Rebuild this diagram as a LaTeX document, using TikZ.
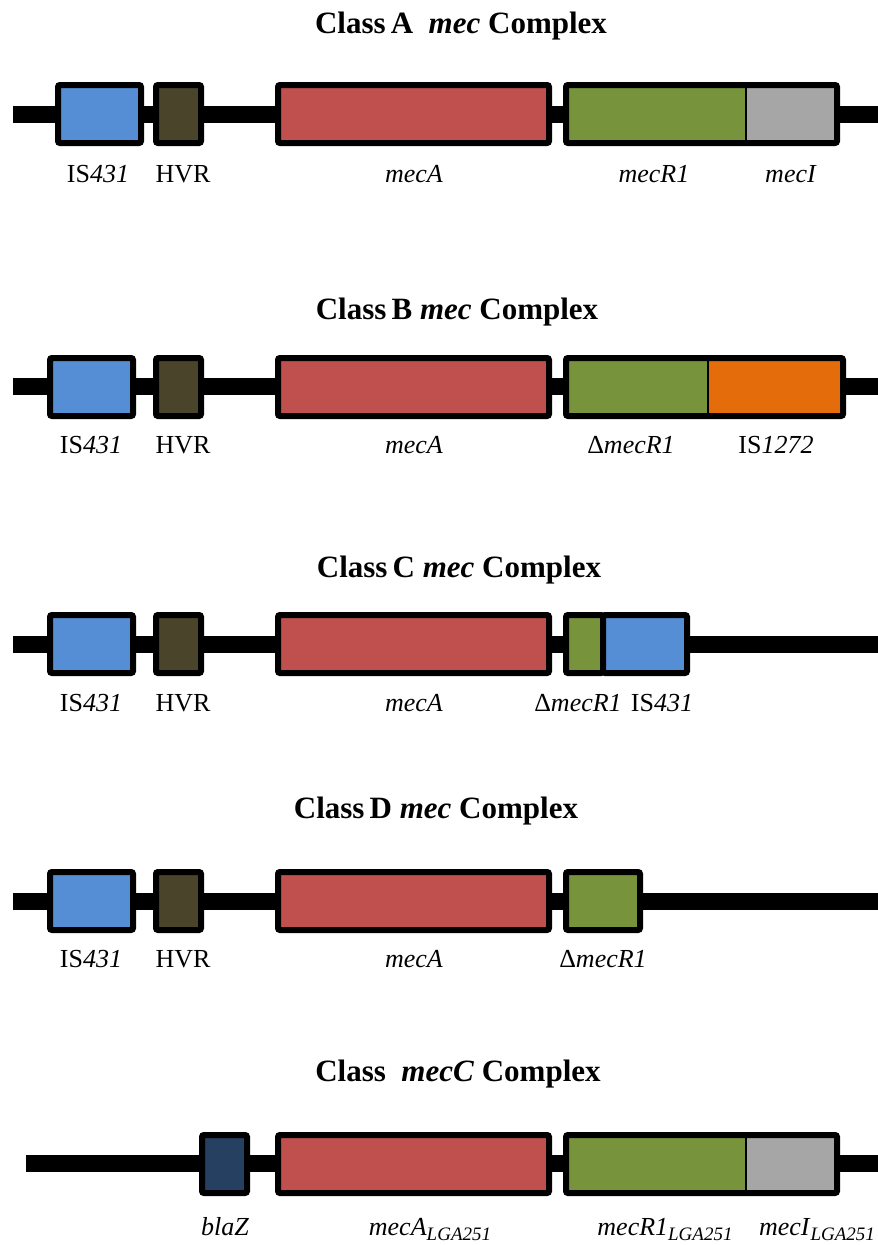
\documentclass[tikz,border=0pt]{standalone}
\usepackage{fontspec}
\setmainfont{Liberation Serif}
\definecolor{isblue}{HTML}{558ED5}
\definecolor{hvrcol}{HTML}{4A452A}
\definecolor{mecacol}{HTML}{C0504D}
\definecolor{mecrcol}{HTML}{77933C}
\definecolor{meccol}{HTML}{A6A6A6}
\definecolor{isorange}{HTML}{E46C0A}
\definecolor{blazcol}{HTML}{254061}
\newcommand{\lgasub}{\raisebox{-0.2em}{\fontsize{19}{21}\selectfont\textit{LGA251}}}
\begin{document}
\begin{tikzpicture}[x=1pt,y=-1pt,
  gene/.style={draw=black, line width=6pt, rounded corners=2pt, minimum height=58pt, inner sep=0pt, outer sep=0pt},
  genefill/.style={draw=none, minimum height=58pt, inner sep=0pt, outer sep=0pt},
  outline/.style={draw=black, line width=6pt, rounded corners=2pt},
  divider/.style={draw=black, line width=2pt},
  backbone/.style={draw=black, line width=17pt},
  lbl/.style={anchor=base, inner sep=0pt, font=\fontsize{26}{30}\selectfont},
  ttl/.style={anchor=base, inner sep=0pt, font=\fontsize{31}{36}\selectfont\bfseries}]
\useasboundingbox (0,0) rectangle (878,1245);

% ---------------- Class A ----------------
\node[ttl] (tA) at (461,33) {Class\,A\ \ \textit{mec} Complex};
\coordinate (a0) at (13,114);
\coordinate (a1) at (878,114);
\draw[backbone] (a0) -- (a1);
\node[gene, fill=isblue, minimum width=83pt] (aIS) at (99.5,114) {};
\node[gene, fill=hvrcol, minimum width=45pt] (aHVR) at (178.5,114) {};
\node[gene, fill=mecacol, minimum width=271pt] (aA) at (413.5,114) {};
\node[genefill, fill=mecrcol, minimum width=180pt] (aR) at (656,114) {};
\node[genefill, fill=meccol, minimum width=91pt] (aI) at (791.5,114) {};
\draw[outline] (aR.north west) rectangle (aI.south east);
\draw[divider] (aR.north east) -- (aR.south east);
\node[lbl] (aISl) at (98,182) {IS\textit{431}};
\node[lbl] (aHVRl) at (183,182) {HVR};
\node[lbl] (aAl) at (414,182) {\textit{mecA}};
\node[lbl] (aRl) at (654,182) {\textit{mecR1}};
\node[lbl] (aIl) at (791,182) {\textit{mecI}};

% ---------------- Class B ----------------
\node[ttl] (tB) at (457,319) {Class\,B \textit{mec} Complex};
\coordinate (b0) at (13,386);
\coordinate (b1) at (878,386);
\draw[backbone] (b0) -- (b1);
\node[gene, fill=isblue, minimum width=83pt] (bIS) at (91.5,387) {};
\node[gene, fill=hvrcol, minimum width=45pt] (bHVR) at (178.5,387) {};
\node[gene, fill=mecacol, minimum width=271pt] (bA) at (413.5,387) {};
\node[genefill, fill=mecrcol, minimum width=142pt] (bR) at (637,387) {};
\node[genefill, fill=isorange, minimum width=135pt] (bI) at (775.5,387) {};
\draw[outline] (bR.north west) rectangle (bI.south east);
\draw[divider] (bR.north east) -- (bR.south east);
\node[lbl] (bISl) at (91,453) {IS\textit{431}};
\node[lbl] (bHVRl) at (183,453) {HVR};
\node[lbl] (bAl) at (414,453) {\textit{mecA}};
\node[lbl] (bRl) at (631,453) {Δ\textit{mecR1}};
\node[lbl] (bIl) at (776,453) {IS\textit{1272}};

% ---------------- Class C ----------------
\node[ttl] (tC) at (459,577) {Class\,C \textit{mec} Complex};
\coordinate (c0) at (13,644);
\coordinate (c1) at (878,644);
\draw[backbone] (c0) -- (c1);
\node[gene, fill=isblue, minimum width=83pt] (cIS) at (91.5,644) {};
\node[gene, fill=hvrcol, minimum width=45pt] (cHVR) at (178.5,644) {};
\node[gene, fill=mecacol, minimum width=271pt] (cA) at (413.5,644) {};
\node[gene, fill=mecrcol, minimum width=37pt] (cR) at (584.5,644) {};
\node[gene, fill=isblue, minimum width=84pt] (cIS2) at (645,644) {};
\node[lbl] (cISl) at (91,711) {IS\textit{431}};
\node[lbl] (cHVRl) at (183,711) {HVR};
\node[lbl] (cAl) at (414,711) {\textit{mecA}};
\node[lbl] (cRl) at (578,711) {Δ\textit{mecR1}};
\node[lbl] (cIS2l) at (662,711) {IS\textit{431}};

% ---------------- Class D ----------------
\node[ttl] (tD) at (436,818) {Class\,D \textit{mec} Complex};
\coordinate (d0) at (13,901);
\coordinate (d1) at (878,901);
\draw[backbone] (d0) -- (d1);
\node[gene, fill=isblue, minimum width=83pt] (dIS) at (91.5,901) {};
\node[gene, fill=hvrcol, minimum width=45pt] (dHVR) at (178.5,901) {};
\node[gene, fill=mecacol, minimum width=271pt] (dA) at (413.5,901) {};
\node[gene, fill=mecrcol, minimum width=74pt] (dR) at (603,901) {};
\node[lbl] (dISl) at (91,967) {IS\textit{431}};
\node[lbl] (dHVRl) at (183,967) {HVR};
\node[lbl] (dAl) at (414,967) {\textit{mecA}};
\node[lbl] (dRl) at (603,967) {Δ\textit{mecR1}};

% ---------------- Class mecC ----------------
\node[ttl] (tE) at (458,1081) {Class\ \ \textit{mecC} Complex};
\coordinate (e0) at (26,1163);
\coordinate (e1) at (878,1163);
\draw[backbone] (e0) -- (e1);
\node[gene, fill=blazcol, minimum width=45pt] (eB) at (224.5,1164) {};
\node[gene, fill=mecacol, minimum width=271pt] (eA) at (413.5,1164) {};
\node[genefill, fill=mecrcol, minimum width=180pt] (eR) at (656,1164) {};
\node[genefill, fill=meccol, minimum width=91pt] (eI) at (791.5,1164) {};
\draw[outline] (eR.north west) rectangle (eI.south east);
\draw[divider] (eR.north east) -- (eR.south east);
\node[lbl] (eBl) at (225,1235) {\textit{blaZ}};
\node[lbl] (eAl) at (430,1235) {\textit{mecA}\lgasub};
\node[lbl] (eRl) at (665,1235) {\textit{mecR1}\lgasub};
\node[lbl] (eIl) at (817,1235) {\textit{mecI}\lgasub};
\end{tikzpicture}
\end{document}
